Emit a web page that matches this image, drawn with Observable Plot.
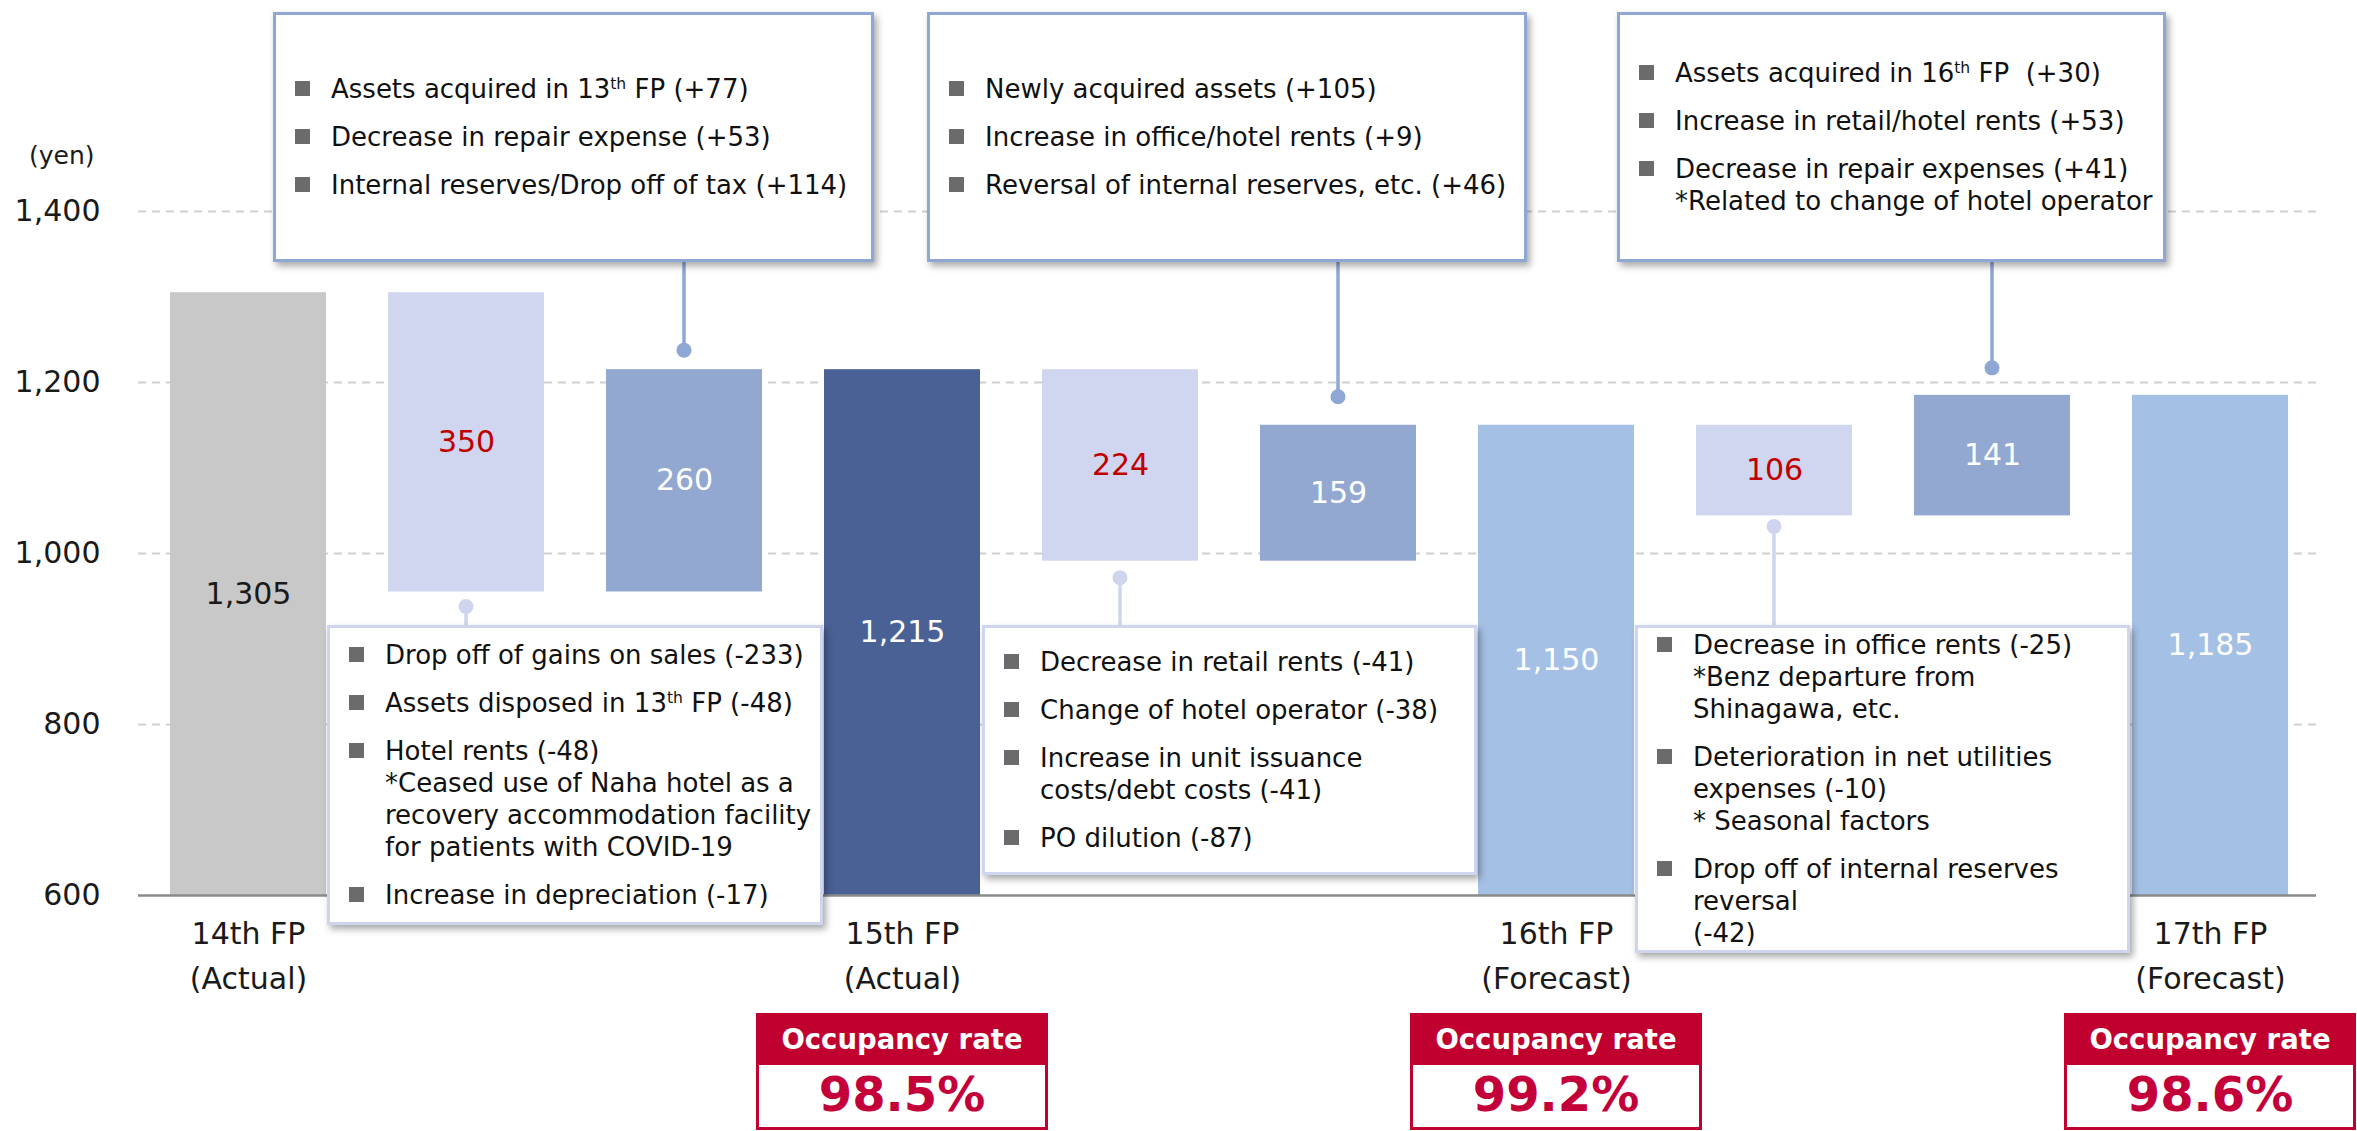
<!DOCTYPE html>
<html>
<head>
<meta charset="utf-8">
<script src="https://cdn.jsdelivr.net/npm/d3@7"></script>
<script src="https://cdn.jsdelivr.net/npm/@observablehq/plot@0.6"></script>
<style>
  html, body { margin: 0; padding: 0; background: #fff; }
  #chart { position: relative; width: 2357px; height: 1131px; overflow: hidden; font-family: "DejaVu Sans", Verdana, sans-serif; }
  #chart > svg { position: absolute; left: 0; top: 0; }
  .note {
    position: absolute; box-sizing: border-box; background: #fff;
    display: flex; flex-direction: column; justify-content: center;
    padding: 0 8px 0 19px; color: #111;
    font: 26px/32px "DejaVu Sans", Verdana, sans-serif; white-space: nowrap;
    box-shadow: 3px 4px 7px rgba(0,0,0,0.35);
  }
  .note.up { border: 3px solid #8fa7d4; }
  .note.down { border: 3px solid #cfd5ee; }
  .note .item { position: relative; padding-left: 36px; }
  .note .item + .item { margin-top: 16px; }
  .note .item::before {
    content: ""; position: absolute; left: 0; top: 8px; width: 15px; height: 15px; background: #6b6b6b;
  }
  .note sup { font-size: 0.6em; line-height: 0; vertical-align: 0.6em; }
  .occ { position: absolute; box-sizing: border-box; width: 292px; top: 1013px; text-align: center; font-family: "DejaVu Sans", Verdana, sans-serif; font-weight: bold; }
  .occ .head { height: 52px; line-height: 52px; background: #c0002f; color: #fff; font-size: 27.5px; }
  .occ .val { box-sizing: border-box; height: 65px; line-height: 59px; border: 3px solid #c0002f; border-top: none; color: #c4003a; font-size: 48px; background: #fff; }
</style>
</head>
<body>
<div id="chart"></div>
<script>
// Dividend per unit bridge, 14th FP -> 17th FP (yen)
const stepKeys   = ["14th", "dec15", "inc15", "15th", "dec16", "inc16", "16th", "dec17", "inc17", "17th"];
const stepGroups = ["start", "decrease", "increase", "actual", "decrease", "increase", "forecast", "decrease", "increase", "forecast"];
const stepValues = [1305, 350, 260, 1215, 224, 159, 1150, 106, 141, 1185];

const periodKeys   = ["14th", "15th", "16th", "17th"];
const periodNames  = ["14th FP", "15th FP", "16th FP", "17th FP"];
const periodStatus = ["(Actual)", "(Actual)", "(Forecast)", "(Forecast)"];

const occupancyPeriods = ["15th", "16th", "17th"];
const occupancyRates   = [98.5, 99.2, 98.6];

const yTicks = [600, 800, 1000, 1200, 1400];

// Breakdown notes attached to each increase / decrease step
const noteSteps = ["inc15", "inc16", "inc17", "dec15", "dec16", "dec17"];
const noteItems = [
  [["Assets acquired in 13<sup>th</sup> FP (+77)"], ["Decrease in repair expense (+53)"], ["Internal reserves/Drop off of tax (+114)"]],
  [["Newly acquired assets (+105)"], ["Increase in office/hotel rents (+9)"], ["Reversal of internal reserves, etc. (+46)"]],
  [["Assets acquired in 16<sup>th</sup> FP&nbsp; (+30)"], ["Increase in retail/hotel rents (+53)"], ["Decrease in repair expenses (+41)", "*Related to change of hotel operator"]],
  [["Drop off of gains on sales (-233)"], ["Assets disposed in 13<sup>th</sup> FP (-48)"], ["Hotel rents (-48)", "*Ceased use of Naha hotel as a", "recovery accommodation facility", "for patients with COVID-19"], ["Increase in depreciation (-17)"]],
  [["Decrease in retail rents (-41)"], ["Change of hotel operator (-38)"], ["Increase in unit issuance", "costs/debt costs (-41)"], ["PO dilution (-87)"]],
  [["Decrease in office rents (-25)", "*Benz departure from", "Shinagawa, etc."], ["Deterioration in net utilities", "expenses (-10)", "* Seasonal factors"], ["Drop off of internal reserves", "reversal", "(-42)"]]
];

// Note box layout (pixels): left, top, width, height, gap between bar edge and connector dot
const noteLayout = [
  {left: 273,  top: 12,  width: 601, height: 250, gap: 19},
  {left: 927,  top: 12,  width: 600, height: 250, gap: 28},
  {left: 1617, top: 12,  width: 549, height: 250, gap: 27},
  {left: 327,  top: 625, width: 496, height: 300, gap: 15},
  {left: 982,  top: 625, width: 495, height: 250, gap: 17},
  {left: 1635, top: 625, width: 495, height: 328, gap: 11}
];

const yMin = yTicks[0], yMax = yTicks[yTicks.length - 1];

// Build the waterfall segments
let level = 0;
const rows = stepKeys.map((key, i) => {
  const group = stepGroups[i], value = stepValues[i];
  let lo, hi;
  if (group === "decrease") { hi = level; lo = level - value; level = lo; }
  else if (group === "increase") { lo = level; hi = level + value; level = hi; }
  else { lo = yMin; hi = value; level = value; }
  return {key, group, value, lo, hi, mid: (lo + hi) / 2, label: d3.format(",")(value)};
});

const groupColors = {
  start: "#c8c8c8", actual: "#4a6196", forecast: "#a4c0e4", decrease: "#d0d6ef", increase: "#93a8d1"
};
const labelColors = {
  start: "#1a1a1a", actual: "#ffffff", forecast: "#ffffff", decrease: "#c00000", increase: "#ffffff"
};

const labelFor = k => {
  const i = periodKeys.indexOf(k);
  return i < 0 ? "" : `${periodNames[i]}\n${periodStatus[i]}`;
};

const plot = Plot.plot({
  width: 2357,
  height: 1131,
  marginLeft: 138,
  marginRight: 41,
  marginTop: 211,
  marginBottom: 236,
  style: {fontFamily: "'DejaVu Sans', Verdana, sans-serif", fontSize: "30px", color: "#1a1a1a", background: "transparent"},
  x: {type: "band", domain: stepKeys, paddingInner: 0.283, paddingOuter: 0.135, align: 0.54},
  y: {domain: [yMin, yMax]},
  color: {domain: Object.keys(groupColors), range: Object.values(groupColors)},
  marks: [
    Plot.gridY(yTicks.slice(1), {stroke: "#d0d0d0", strokeOpacity: 1, strokeWidth: 2, strokeDasharray: "8,6"}),
    Plot.barY(rows, {x: "key", y1: "lo", y2: "hi", fill: "group"}),
    Plot.ruleY([yMin], {stroke: "#8a8a8a", strokeWidth: 2.5}),
    Plot.axisY({ticks: yTicks, tickSize: 0, tickPadding: 38, fontSize: 30, tickFormat: d3.format(","), label: null}),
    Plot.text(["(yen)"], {frameAnchor: "top-left", lineAnchor: "middle", dx: -44, dy: -56, textAnchor: "end", fontSize: 25}),
    Plot.axisX({ticks: periodKeys, tickSize: 0, tickPadding: 17, fontSize: 30, lineHeight: 1.5, tickFormat: labelFor, label: null}),
    ...Object.keys(labelColors).map(g =>
      Plot.text(rows.filter(r => r.group === g), {x: "key", y: "mid", text: "label", fill: labelColors[g], fontSize: 30})
    )
  ]
});

const chart = document.getElementById("chart");
chart.appendChild(plot);

const xs = plot.scale("x"), ys = plot.scale("y");
const cx = k => xs.apply(k) + xs.bandwidth / 2;

// Connectors from each note box to its bar
const g = d3.select(plot).append("g");
noteSteps.forEach((k, i) => {
  const row = rows.find(r => r.key === k);
  const L = noteLayout[i];
  const up = row.group === "increase";
  const color = up ? "#8fa7d4" : "#cfd5ee";
  const x = cx(k);
  const dotY = up ? ys.apply(row.hi) - L.gap : ys.apply(row.lo) + L.gap;
  const edgeY = up ? L.top + L.height : L.top;
  g.append("line").attr("x1", x).attr("x2", x).attr("y1", edgeY).attr("y2", dotY)
    .attr("stroke", color).attr("stroke-width", 3.5);
  g.append("circle").attr("cx", x).attr("cy", dotY).attr("r", 7.5).attr("fill", color);
});

// Note boxes
noteSteps.forEach((k, i) => {
  const row = rows.find(r => r.key === k);
  const L = noteLayout[i];
  const div = document.createElement("div");
  div.className = "note " + (row.group === "increase" ? "up" : "down");
  Object.assign(div.style, {left: L.left + "px", top: L.top + "px", width: L.width + "px", height: L.height + "px"});
  div.innerHTML = noteItems[i].map(lines => `<div class="item">${lines.join("<br>")}</div>`).join("");
  chart.appendChild(div);
});

// Occupancy rate badges under the period bars
occupancyPeriods.forEach((k, i) => {
  const div = document.createElement("div");
  div.className = "occ";
  div.style.left = (cx(k) - 146) + "px";
  div.innerHTML = `<div class="head">Occupancy rate</div><div class="val">${occupancyRates[i].toFixed(1)}%</div>`;
  chart.appendChild(div);
});
</script>
</body>
</html>
